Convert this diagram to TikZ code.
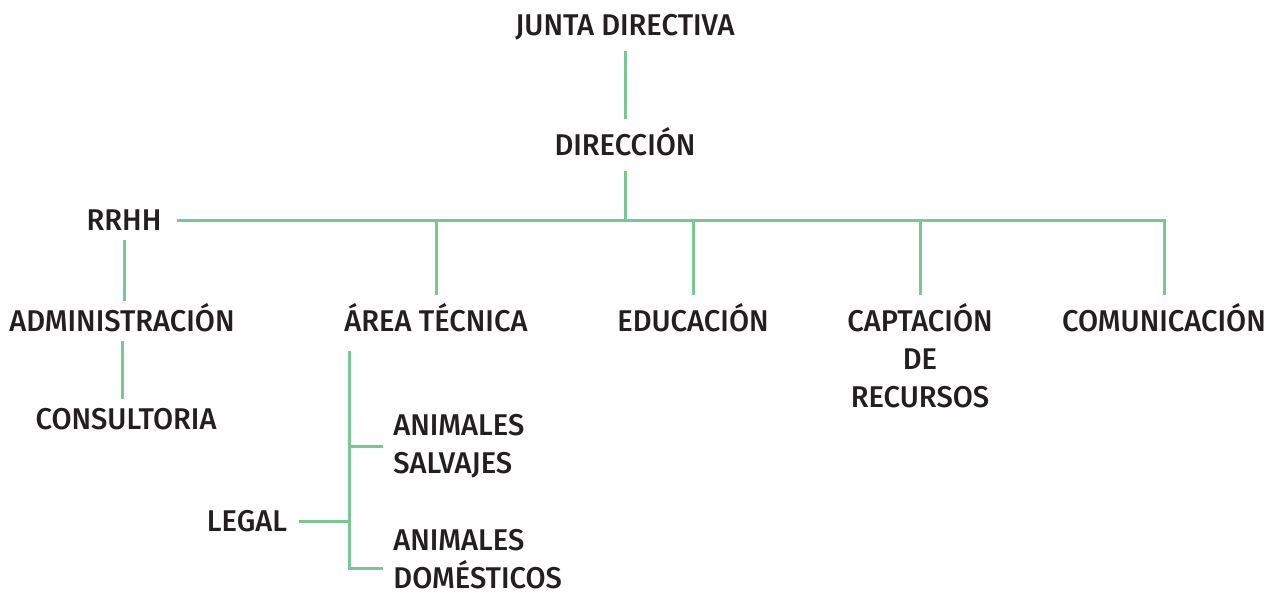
\documentclass[tikz,border=0pt]{standalone}
\usepackage{fontspec}
\setmainfont{Fira Sans}[UprightFont={* Medium},FakeStretch=0.97]
\definecolor{linegreen}{RGB}{125,196,150}
\definecolor{inkdark}{RGB}{35,31,32}
\tikzset{
  lbl/.style={font=\fontsize{15}{19}\selectfont, text=inkdark, inner xsep=7.5pt, inner ysep=7.5pt, text height=10.5pt, text depth=0pt},
  lblm/.style={font=\fontsize{15}{19}\selectfont, text=inkdark, inner xsep=5pt, inner ysep=4pt},
  link/.style={draw=linegreen, line width=1.5pt},
  closegap/.style={shorten <=-3pt, shorten >=-3pt}
}
\begin{document}
\begin{tikzpicture}[x=0.5pt,y=-0.5pt]
\useasboundingbox (0,0) rectangle (1264,594);
\node[lbl] (junta) at (625,25) {JUNTA DIRECTIVA};
\node[lbl] (direccion) at (625,145) {DIRECCIÓN};
\node[lbl] (rrhh) at (124,220) {RRHH};
\node[lbl] (admin) at (122,321) {ADMINISTRACIÓN};
\node[lbl] (consult) at (126,419) {CONSULTORIA};
\node[lbl] (area) at (436,321) {ÁREA TÉCNICA};
\node[lbl] (educ) at (693,321) {EDUCACIÓN};
\node[lblm, align=center] (capt) at (920,356) {CAPTACIÓN\\DE\\RECURSOS};
\node[lbl] (comu) at (1164,321) {COMUNICACIÓN};
\node[lblm, align=left, anchor=west] (salv) at (383,446) {ANIMALES\\SALVAJES};
\node[lblm, align=left, anchor=west, inner ysep=0pt] (dom) at (383,559) {ANIMALES\\DOMÉSTICOS};
\node[lbl, inner xsep=6pt] (legal) at (247,521) {LEGAL};
\coordinate (bus) at (625,220);
\coordinate (fork) at (349,351);
\draw[link] (junta) -- (direccion);
\draw[link] (direccion) -- (bus);
\draw[link] (rrhh.east) -- (rrhh.east -| comu.north) -- (comu.north);
\draw[link] (bus -| area.north) -- (area.north);
\draw[link] (bus -| educ.north) -- (educ.north);
\draw[link] (bus -| capt.north) -- (capt.north);
\draw[link, closegap] (rrhh.south) -- (rrhh.south |- admin.north);
\draw[link, closegap] (admin.south) -- (admin.south |- consult.north);
\draw[link] (fork) |- ([yshift=-4.5pt]dom.west);
\draw[link] (fork |- salv.west) -- (salv.west);
\draw[link] (legal.east) -- (legal.east -| fork);
\end{tikzpicture}
\end{document}
